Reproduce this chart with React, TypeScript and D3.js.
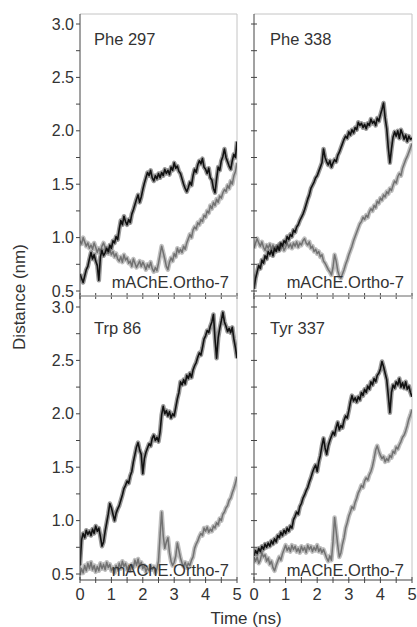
import React from 'react';
import * as d3 from 'd3';

// residue labels, one per panel (row-major)
const residues = ['Phe 297', 'Phe 338', 'Trp 86', 'Tyr 337'];
const ligandLabel = 'mAChE.Ortho-7';
const xTicks = [0, 1, 2, 3, 4, 5];
const yTicks = [0.5, 1.0, 1.5, 2.0, 2.5, 3.0];

// distances (nm), sampled every 0.05 ns from 0 to 5 ns
const phe297Dark = [0.66,0.62,0.58,0.64,0.70,0.73,0.80,0.86,0.80,0.84,0.78,0.74,0.60,0.82,0.88,0.83,0.86,0.90,0.87,0.93,0.90,0.97,0.95,1.01,0.98,1.08,1.16,1.12,1.20,1.15,1.12,1.17,1.14,1.22,1.26,1.31,1.36,1.40,1.33,1.38,1.45,1.51,1.56,1.61,1.58,1.63,1.56,1.53,1.58,1.55,1.60,1.56,1.61,1.58,1.64,1.60,1.63,1.59,1.66,1.63,1.70,1.65,1.67,1.62,1.60,1.55,1.50,1.46,1.43,1.47,1.52,1.49,1.58,1.64,1.61,1.68,1.72,1.69,1.74,1.66,1.64,1.60,1.65,1.56,1.54,1.46,1.42,1.55,1.66,1.63,1.72,1.76,1.83,1.75,1.71,1.67,1.64,1.72,1.78,1.75,1.90];
const phe297Grey = [0.97,0.94,1.00,0.96,0.92,0.95,0.90,0.93,0.89,0.95,0.91,0.86,0.90,0.87,0.92,0.95,0.91,0.88,0.85,0.89,0.84,0.87,0.82,0.85,0.80,0.78,0.82,0.77,0.84,0.79,0.81,0.76,0.78,0.73,0.80,0.76,0.72,0.75,0.78,0.73,0.77,0.74,0.70,0.75,0.72,0.77,0.71,0.68,0.72,0.69,0.76,0.84,0.92,0.86,0.80,0.73,0.70,0.77,0.81,0.78,0.85,0.82,0.90,0.86,0.89,0.86,0.92,0.89,0.95,0.99,1.03,1.00,1.07,1.10,1.08,1.14,1.12,1.17,1.15,1.21,1.19,1.25,1.23,1.30,1.27,1.33,1.30,1.36,1.33,1.39,1.37,1.42,1.45,1.43,1.49,1.46,1.53,1.50,1.58,1.62,1.70];
const phe338Dark = [0.52,0.62,0.68,0.74,0.71,0.79,0.76,0.83,0.80,0.87,0.84,0.88,0.83,0.90,0.87,0.92,0.88,0.95,0.92,0.97,0.95,1.01,0.98,1.03,1.01,1.07,1.05,1.10,1.12,1.16,1.19,1.22,1.26,1.31,1.36,1.40,1.46,1.49,1.52,1.56,1.58,1.62,1.66,1.70,1.83,1.75,1.71,1.68,1.72,1.66,1.70,1.73,1.71,1.77,1.80,1.84,1.88,1.92,1.95,1.93,1.99,1.96,2.01,1.98,2.03,2.01,2.08,2.05,2.07,2.03,2.06,2.02,2.07,2.05,2.11,2.07,2.09,2.05,2.12,2.09,2.15,2.20,2.26,2.12,2.02,1.84,1.70,1.83,1.94,1.99,1.95,2.00,1.93,2.01,1.97,1.92,1.96,1.90,1.95,1.92,1.93];
const phe338Grey = [0.90,0.95,0.99,0.95,0.92,0.96,0.91,0.88,0.93,0.90,0.94,0.89,0.93,0.88,0.92,0.89,0.94,0.90,0.93,0.88,0.91,0.95,0.91,0.94,0.90,0.95,0.92,0.96,0.91,0.95,0.93,0.97,0.99,0.95,0.93,0.96,0.90,0.92,0.87,0.89,0.85,0.87,0.82,0.84,0.78,0.76,0.73,0.70,0.68,0.65,0.72,0.84,0.78,0.69,0.64,0.62,0.66,0.70,0.75,0.79,0.84,0.88,0.92,0.97,1.01,1.05,1.09,1.13,1.15,1.19,1.17,1.21,1.19,1.24,1.27,1.25,1.30,1.28,1.34,1.32,1.37,1.35,1.40,1.38,1.43,1.41,1.46,1.44,1.49,1.53,1.51,1.57,1.60,1.58,1.65,1.69,1.73,1.76,1.80,1.84,1.88];
const trp86Dark = [0.58,0.82,0.88,0.84,0.91,0.87,0.90,0.86,0.92,0.88,0.95,0.90,0.93,0.85,0.76,0.80,0.90,0.98,1.06,1.16,1.12,1.06,1.00,1.07,1.11,1.14,1.19,1.24,1.30,1.33,1.37,1.35,1.42,1.46,1.55,1.62,1.69,1.73,1.66,1.62,1.44,1.58,1.64,1.68,1.72,1.70,1.77,1.80,1.75,1.78,1.74,1.83,1.99,2.07,2.00,2.03,1.98,2.02,1.96,2.00,1.98,2.06,2.14,2.20,2.30,2.27,2.32,2.28,2.36,2.33,2.38,2.34,2.41,2.45,2.48,2.53,2.57,2.55,2.62,2.70,2.73,2.78,2.76,2.82,2.86,2.93,2.70,2.52,2.71,2.80,2.87,2.95,2.86,2.82,2.77,2.80,2.76,2.81,2.70,2.62,2.52];
const trp86Grey = [0.49,0.55,0.51,0.58,0.53,0.60,0.55,0.61,0.54,0.58,0.52,0.57,0.53,0.60,0.55,0.59,0.54,0.61,0.56,0.59,0.53,0.56,0.51,0.58,0.54,0.60,0.55,0.62,0.57,0.60,0.54,0.58,0.53,0.59,0.56,0.63,0.58,0.64,0.57,0.61,0.55,0.58,0.52,0.56,0.53,0.58,0.54,0.57,0.51,0.55,0.62,0.86,1.08,0.86,0.74,0.80,0.84,0.70,0.62,0.58,0.61,0.67,0.79,0.72,0.65,0.60,0.57,0.61,0.56,0.60,0.58,0.63,0.66,0.74,0.78,0.81,0.85,0.88,0.86,0.93,0.90,0.94,0.89,0.92,0.90,0.95,0.93,0.98,0.96,1.02,1.00,1.06,1.08,1.12,1.14,1.19,1.21,1.26,1.30,1.35,1.41];
const tyr337Dark = [0.67,0.72,0.69,0.74,0.71,0.76,0.73,0.78,0.75,0.79,0.76,0.81,0.78,0.83,0.80,0.86,0.84,0.89,0.86,0.91,0.88,0.93,0.90,0.95,0.93,1.01,1.04,1.08,1.06,1.13,1.16,1.21,1.24,1.28,1.31,1.36,1.40,1.45,1.49,1.52,1.46,1.55,1.61,1.70,1.77,1.68,1.62,1.70,1.75,1.79,1.83,1.80,1.87,1.92,1.85,1.89,1.87,1.94,1.98,1.96,2.03,2.11,2.17,2.12,2.15,2.11,2.16,2.13,2.20,2.17,2.23,2.20,2.26,2.23,2.30,2.27,2.33,2.30,2.36,2.38,2.42,2.49,2.44,2.38,2.32,2.17,2.01,2.20,2.27,2.24,2.30,2.27,2.33,2.25,2.29,2.24,2.30,2.23,2.26,2.20,2.16];
const tyr337Grey = [0.66,0.62,0.66,0.60,0.63,0.70,0.66,0.68,0.62,0.65,0.59,0.62,0.56,0.53,0.58,0.62,0.66,0.63,0.69,0.73,0.77,0.72,0.75,0.71,0.77,0.73,0.76,0.71,0.74,0.70,0.76,0.72,0.75,0.70,0.77,0.73,0.76,0.71,0.75,0.72,0.77,0.71,0.74,0.70,0.73,0.69,0.65,0.62,0.67,0.63,0.80,1.03,0.90,0.77,0.66,0.70,0.78,0.84,0.93,0.98,1.04,1.08,1.13,1.11,1.17,1.21,1.26,1.29,1.33,1.31,1.37,1.40,1.38,1.43,1.46,1.51,1.58,1.66,1.70,1.65,1.61,1.58,1.60,1.55,1.58,1.56,1.61,1.59,1.65,1.63,1.69,1.67,1.71,1.74,1.78,1.80,1.84,1.89,1.95,1.99,2.04];

const panelSeries = [
  [phe297Grey, phe297Dark],
  [phe338Grey, phe338Dark],
  [trp86Grey, trp86Dark],
  [tyr337Grey, tyr337Dark],
];

const W = 417;
const H = 627;
const colLeft = [80, 254];
const colRight = [237, 412];
const rowTop = [14, 296];
const rowBottom = [296, 580];
// pixel rows of the 0.5 and 3.0 gridlines
const rowY05 = [291, 574];
const rowY30 = [24, 307];
const FONT = '"Liberation Sans", Arial, sans-serif';

const Panel = ({ idx }: { idx: number }) => {
  const col = idx % 2;
  const row = Math.floor(idx / 2);
  const x0 = colLeft[col];
  const x1 = colRight[col];
  const top = rowTop[row];
  const bottom = rowBottom[row];

  const x = d3.scaleLinear().domain([0, 5]).range([x0, x1]);
  const y = d3.scaleLinear().domain([0.5, 3.0]).range([rowY05[row], rowY30[row]]);

  const [grey, dark] = panelSeries[idx];
  const mkLine = (vals: number[]) =>
    d3.line<number>()
      .x((_, i) => x((i * 5) / (vals.length - 1)))
      .y((d) => y(d))(vals) || '';

  const clipId = `clip-${idx}`;
  const minorY = d3.range(0.5, 3.01, 0.25);
  const halfX = d3.range(0, 5.01, 0.5);
  const tickL = col === 0 ? -4 : -3;
  const tickR = col === 0 ? 0 : 3;

  return (
    <g>
      <defs>
        <clipPath id={clipId}>
          <rect x={x0} y={top} width={x1 - x0} height={bottom - top} />
        </clipPath>
      </defs>
      {/* frame: light top/right, dark left/bottom */}
      <line x1={x0} x2={x1} y1={top} y2={top} stroke="#c4c4c4" strokeWidth={1} />
      <line x1={x1} x2={x1} y1={top} y2={bottom} stroke="#c4c4c4" strokeWidth={1} />

      <g clipPath={`url(#${clipId})`} fill="none" strokeLinejoin="round">
        <path d={mkLine(grey)} stroke="#aaa" strokeWidth={4.5} strokeOpacity={0.75} />
        <path d={mkLine(grey)} stroke="#727272" strokeWidth={1.5} />
        <path d={mkLine(dark)} stroke="#555" strokeWidth={4.5} strokeOpacity={0.6} />
        <path d={mkLine(dark)} stroke="#111" strokeWidth={1.6} />
      </g>

      <line x1={x0} x2={x0} y1={top} y2={bottom} stroke="#444" strokeWidth={1} />
      <line x1={x0} x2={x1} y1={bottom} y2={bottom} stroke="#444" strokeWidth={1} />

      {minorY.map((v) => (
        <line key={`yt${v}`} x1={x0 + tickL} x2={x0 + tickR} y1={y(v)} y2={y(v)} stroke="#444" />
      ))}
      {halfX.map((t) => (
        <line key={`xt${t}`} x1={x(t)} x2={x(t)} y1={bottom - 3} y2={bottom + 3} stroke="#444" />
      ))}

      {col === 0 && yTicks.map((v) => (
        <text key={`yl${v}`} x={x0 - 6} y={y(v) + 5.5} textAnchor="end" fontSize={16} fill="#333" fontFamily={FONT}>
          {v.toFixed(1)}
        </text>
      ))}
      {row === 1 && xTicks.map((t) => (
        <text key={`xl${t}`} x={x(t)} y={600} textAnchor="middle" fontSize={16.5} fill="#333" fontFamily={FONT}>
          {t}
        </text>
      ))}

      <text x={x0 + (col === 0 ? 14 : 16)} y={top + (row === 0 ? 31 : 38)} fontSize={16.5} fill="#333" fontFamily={FONT}>
        {residues[idx]}
      </text>
      <text x={x1 - 8} y={bottom - (row === 0 ? 8 : 4)} textAnchor="end" fontSize={16.5} fill="#333" fontFamily={FONT}>
        {ligandLabel}
      </text>
    </g>
  );
};

export default function App() {
  return (
    <svg width={W} height={H} style={{ position: 'absolute', left: 0, top: 0, background: '#fff' }}>
      <rect width={W} height={H} fill="#fff" />
      {[0, 1, 2, 3].map((i) => (
        <Panel key={i} idx={i} />
      ))}
      <text
        transform={`translate(25,${(rowTop[0] + rowBottom[1]) / 2}) rotate(-90)`}
        textAnchor="middle"
        fontSize={17}
        fill="#333"
        fontFamily={FONT}
      >
        Distance (nm)
      </text>
      <text x={246} y={624} textAnchor="middle" fontSize={17} fill="#333" fontFamily={FONT}>
        Time (ns)
      </text>
    </svg>
  );
}
